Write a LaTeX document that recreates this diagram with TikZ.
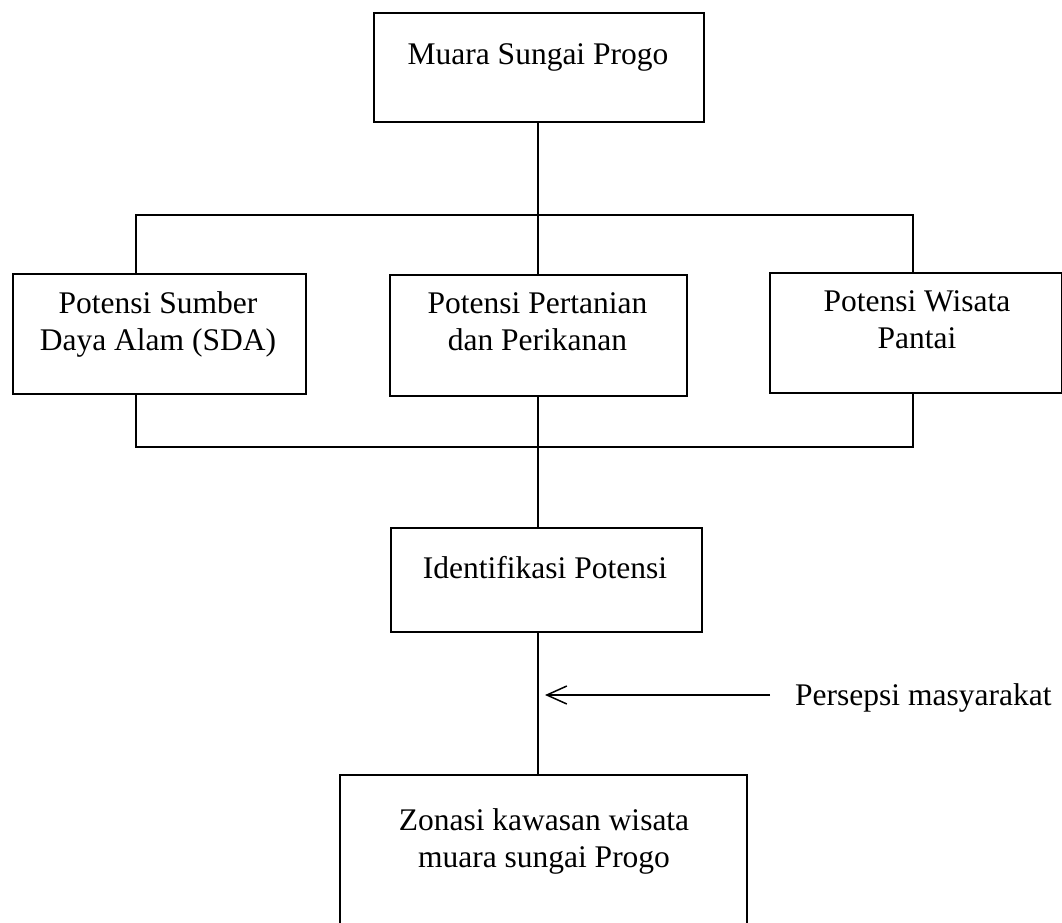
\documentclass[tikz,border=0pt]{standalone}
\usepackage{fontspec}
\setmainfont{Liberation Serif}
\usetikzlibrary{arrows.meta}
\tikzset{
  boxshape/.style={draw, line width=1.5pt, rectangle, inner sep=0pt, anchor=north west},
  txt/.style={anchor=base, align=center, inner sep=0pt, font={\fontsize{31.5}{37}\selectfont}},
  conn/.style={line width=1.5pt},
  arr/.style={line width=1.5pt, -{Straight Barb[length=20pt, width=18pt, line width=1.5pt]}}
}
\begin{document}
\begin{tikzpicture}[x=1pt, y=-1pt]
\useasboundingbox (0,0) rectangle (1062,922);
\clip (0,0) rectangle (1062,922);
% boxes
\node[boxshape, minimum width=330pt, minimum height=109pt] (top) at (373,12) {};
\node[boxshape, minimum width=293pt, minimum height=120pt] (sda) at (12,273) {};
\node[boxshape, minimum width=297pt, minimum height=121pt] (tani) at (389,274) {};
\node[boxshape, minimum width=292pt, minimum height=120pt] (pantai) at (769,272) {};
\node[boxshape, minimum width=311pt, minimum height=104pt] (ident) at (390,527) {};
\node[boxshape, minimum width=407pt, minimum height=170pt] (zona) at (339,774) {};
% texts (base anchor = last line baseline)
\node[txt] (ttop) at (538,64) {Muara Sungai Progo};
\node[txt] (tsda) at (158,350) {Potensi Sumber\\Daya Alam (SDA)};
\node[txt] (ttani) at (537.5,350) {Potensi Pertanian\\dan Perikanan};
\node[txt] (tpantai) at (917,348) {Potensi Wisata\\Pantai};
\node[txt] (tident) at (545,578) {Identifikasi Potensi};
\node[txt] (tzona) at (544,867) {Zonasi kawasan wisata\\muara sungai Progo};
\node[txt, anchor=base west] (persepsi) at (795,705) {Persepsi masyarakat};
% columns and junctions
\coordinate (cl) at (136,0);
\coordinate (cm) at (538,0);
\coordinate (cr) at (913,0);
\coordinate (jtop) at (538,215);
\coordinate (jbot) at (538,447);
\coordinate (arrstart) at (770,695);
\coordinate (arrend) at (545,695);
% connectors
\draw[conn] (cm |- top.south) -- (cm |- tani.north);
\draw[conn] (cl |- sda.north) -- (cl |- jtop) -- (cr |- jtop) -- (cr |- pantai.north);
\draw[conn] (cl |- sda.south) -- (cl |- jbot) -- (cr |- jbot) -- (cr |- pantai.south);
\draw[conn] (cm |- tani.south) -- (cm |- ident.north);
\draw[conn] (cm |- ident.south) -- (cm |- zona.north);
\draw[arr] (arrstart) -- (arrend);
\end{tikzpicture}
\end{document}
